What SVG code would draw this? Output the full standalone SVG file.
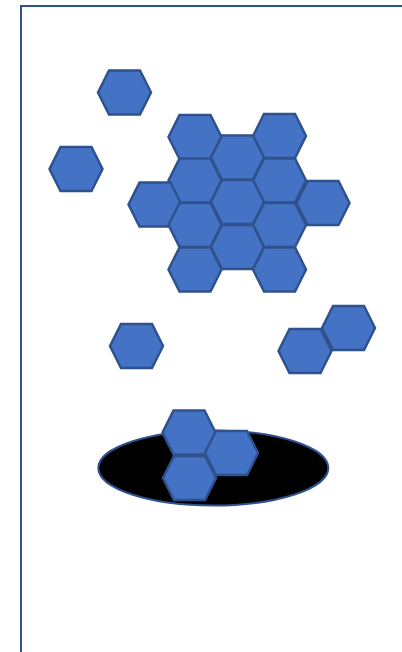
<svg xmlns="http://www.w3.org/2000/svg" xmlns:xlink="http://www.w3.org/1999/xlink" width="402" height="652" viewBox="0 0 402 652">
<style>
.hex{fill:#4472C4;stroke:#2F528F;stroke-width:2.5;stroke-linejoin:miter}
.frame{fill:none;stroke:#2F528F;stroke-width:2}
.hole{fill:#000000;stroke:#2F528F;stroke-width:2}
</style>
<defs>
<polygon id="h" points="-26.5,0 -15.5,-22 15.5,-22 26.5,0 15.5,22 -15.5,22"/>
</defs>
<rect width="402" height="652" fill="#ffffff"/>
<g id="connectors"></g>
<g id="frame"><path class="frame" d="M21,652 V6 H402"/></g>
<g id="hex-a"><use xlink:href="#h" class="hex" x="124.5" y="92.5"/></g>
<g id="hex-b"><use xlink:href="#h" class="hex" x="76" y="169"/></g>
<g id="cluster">
<use xlink:href="#h" class="hex" x="195" y="137"/>
<use xlink:href="#h" class="hex" x="279.5" y="136"/>
<use xlink:href="#h" class="hex" x="237.5" y="157.5"/>
<use xlink:href="#h" class="hex" x="195" y="180.5"/>
<use xlink:href="#h" class="hex" x="279.5" y="180.5"/>
<use xlink:href="#h" class="hex" x="155" y="204.5"/>
<use xlink:href="#h" class="hex" x="237.5" y="202"/>
<use xlink:href="#h" class="hex" x="323" y="203"/>
<use xlink:href="#h" class="hex" x="195" y="225"/>
<use xlink:href="#h" class="hex" x="279.5" y="225"/>
<use xlink:href="#h" class="hex" x="237.5" y="247"/>
<use xlink:href="#h" class="hex" x="195" y="269.5"/>
<use xlink:href="#h" class="hex" x="279.5" y="269.5"/>
</g>
<g id="hex-c"><use xlink:href="#h" class="hex" x="136.5" y="346"/></g>
<g id="hex-pair">
<use xlink:href="#h" class="hex" x="348.5" y="328"/>
<use xlink:href="#h" class="hex" x="305" y="351"/>
</g>
<g id="hole">
<ellipse class="hole" cx="213.3" cy="468" rx="115" ry="37.5"/>
<use xlink:href="#h" class="hex" x="189" y="432.5"/>
<use xlink:href="#h" class="hex" x="189.5" y="478"/>
<use xlink:href="#h" class="hex" x="231.5" y="453"/>
</g>
</svg>
